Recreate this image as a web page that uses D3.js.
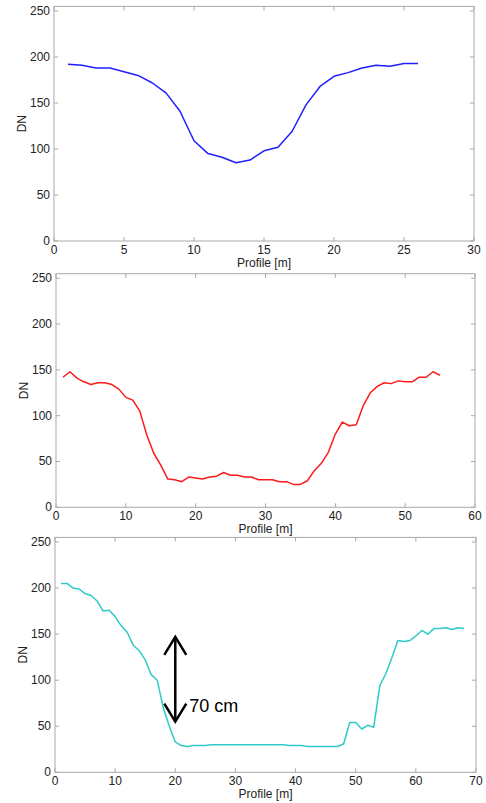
<!DOCTYPE html>
<html>
<head>
<meta charset="utf-8">
<script src="https://cdn.jsdelivr.net/npm/d3@7"></script>
<style>
  body { margin: 0; background: #fff; }
  svg { display: block; font-family: "Liberation Sans", Arial, sans-serif; }
</style>
</head>
<body>
<script>
// DN profiles across the channel, one sample per metre
var profile1 = [192, 191, 188, 188, 184, 180, 172, 161, 141, 109, 95, 91, 85, 88, 98,
                102, 119, 148, 168, 179, 183, 188, 191, 190, 193, 193];
var profile2 = [142, 148, 141, 137, 134, 136, 136, 134, 129, 120, 117, 105, 79, 59, 46,
                31, 30, 28, 33, 32, 31, 33, 34, 38, 35, 35, 33, 33, 30, 30,
                30, 28, 28, 25, 25, 29, 40, 48, 60, 80, 93, 89, 90, 111, 125,
                132, 136, 135, 138, 137, 137, 142, 142, 148, 144];
var profile3 = [205, 205, 200, 199, 194, 192, 186, 175, 176, 169, 159, 152, 138, 132, 122,
                106, 100, 70, 50, 33, 29, 28, 29, 29, 29, 30, 30, 30, 30, 30,
                30, 30, 30, 30, 30, 30, 30, 30, 29, 29, 29, 28, 28, 28, 28,
                28, 28, 31, 54, 54, 47, 51, 49, 94, 107, 124, 143, 142, 143, 148,
                154, 150, 156, 156, 157, 155, 157, 156];
var xMax = [30, 60, 70];
var xTicks = [[0, 5, 10, 15, 20, 25, 30], [0, 10, 20, 30, 40, 50, 60], [0, 10, 20, 30, 40, 50, 60, 70]];
var yTicks = [0, 50, 100, 150, 200, 250];
var colors = ["#1f1fff", "#ff1a1a", "#2ecaca"];
// arrow marking the 70 cm drop in the third profile
var arrow = {x: 20, y1: 147, y2: 55, label: "70 cm"};

var W = 486, H = 803;
var svg = d3.select("body").append("svg")
    .attr("width", W)
    .attr("height", H);

// plot boxes (pixel frame of each axes)
var boxes = [
    {left: 54, right: 474, top: 6.4, bottom: 241},
    {left: 56, right: 475, top: 273.7, bottom: 507.3},
    {left: 55, right: 476, top: 537.4, bottom: 772.3}
];
var series = [profile1, profile2, profile3];
var frameColor = "#a9a9a9", textColor = "#222";
var tickLen = 4;

boxes.forEach(function(b, i) {
    var x = d3.scaleLinear().domain([0, xMax[i]]).range([b.left, b.right]);
    var y = d3.scaleLinear().domain([0, 255]).range([b.bottom, b.top]);
    var g = svg.append("g");

    // frame
    g.append("rect")
        .attr("x", b.left).attr("y", b.top)
        .attr("width", b.right - b.left).attr("height", b.bottom - b.top)
        .attr("fill", "none").attr("stroke", frameColor).attr("stroke-width", 1);

    // inward ticks on all four sides
    xTicks[i].forEach(function(t) {
        g.append("line").attr("x1", x(t)).attr("x2", x(t))
            .attr("y1", b.bottom).attr("y2", b.bottom - tickLen)
            .attr("stroke", frameColor);
        g.append("line").attr("x1", x(t)).attr("x2", x(t))
            .attr("y1", b.top).attr("y2", b.top + tickLen)
            .attr("stroke", frameColor);
        g.append("text")
            .attr("x", x(t)).attr("y", b.bottom + 12.5)
            .attr("text-anchor", "middle")
            .attr("font-size", "12px").attr("fill", textColor)
            .text(t);
    });
    yTicks.forEach(function(t) {
        g.append("line").attr("x1", b.left).attr("x2", b.left + tickLen)
            .attr("y1", y(t)).attr("y2", y(t))
            .attr("stroke", frameColor);
        g.append("line").attr("x1", b.right).attr("x2", b.right - tickLen)
            .attr("y1", y(t)).attr("y2", y(t))
            .attr("stroke", frameColor);
        g.append("text")
            .attr("x", b.left - 4).attr("y", y(t) + 4)
            .attr("text-anchor", "end")
            .attr("font-size", "12px").attr("fill", textColor)
            .text(t);
    });

    // axis labels
    g.append("text")
        .attr("x", (b.left + b.right) / 2).attr("y", b.bottom + 26)
        .attr("text-anchor", "middle")
        .attr("font-size", "12px").attr("fill", textColor)
        .text("Profile [m]");
    g.append("text")
        .attr("transform", "translate(" + (b.left - 28) + "," + ((b.top + b.bottom) / 2) + ") rotate(-90)")
        .attr("text-anchor", "middle")
        .attr("font-size", "12px").attr("fill", textColor)
        .text("DN");

    // profile line
    var line = d3.line()
        .x(function(d, k) { return x(k + 1); })
        .y(function(d) { return y(d); });
    g.append("path")
        .datum(series[i])
        .attr("d", line)
        .attr("fill", "none")
        .attr("stroke", colors[i])
        .attr("stroke-width", 1.5)
        .attr("stroke-linejoin", "round");

    // annotation on last panel
    if (i === 2) {
        var ax = x(arrow.x), ya = y(arrow.y1), yb = y(arrow.y2);
        var head = "M" + (ax - 11) + "," + (ya + 18) + "L" + ax + "," + ya + "L" + (ax + 11) + "," + (ya + 18) +
            "M" + (ax - 11) + "," + (yb - 18) + "L" + ax + "," + yb + "L" + (ax + 11) + "," + (yb - 18);
        g.append("line")
            .attr("x1", ax).attr("x2", ax)
            .attr("y1", ya).attr("y2", yb)
            .attr("stroke", "#000").attr("stroke-width", 2.5);
        g.append("path")
            .attr("d", head)
            .attr("fill", "none").attr("stroke", "#000").attr("stroke-width", 2.5);
        g.append("text")
            .attr("x", ax + 14).attr("y", y(72) + 6)
            .attr("font-size", "18px").attr("fill", "#000")
            .text(arrow.label);
    }
});
</script>
</body>
</html>
